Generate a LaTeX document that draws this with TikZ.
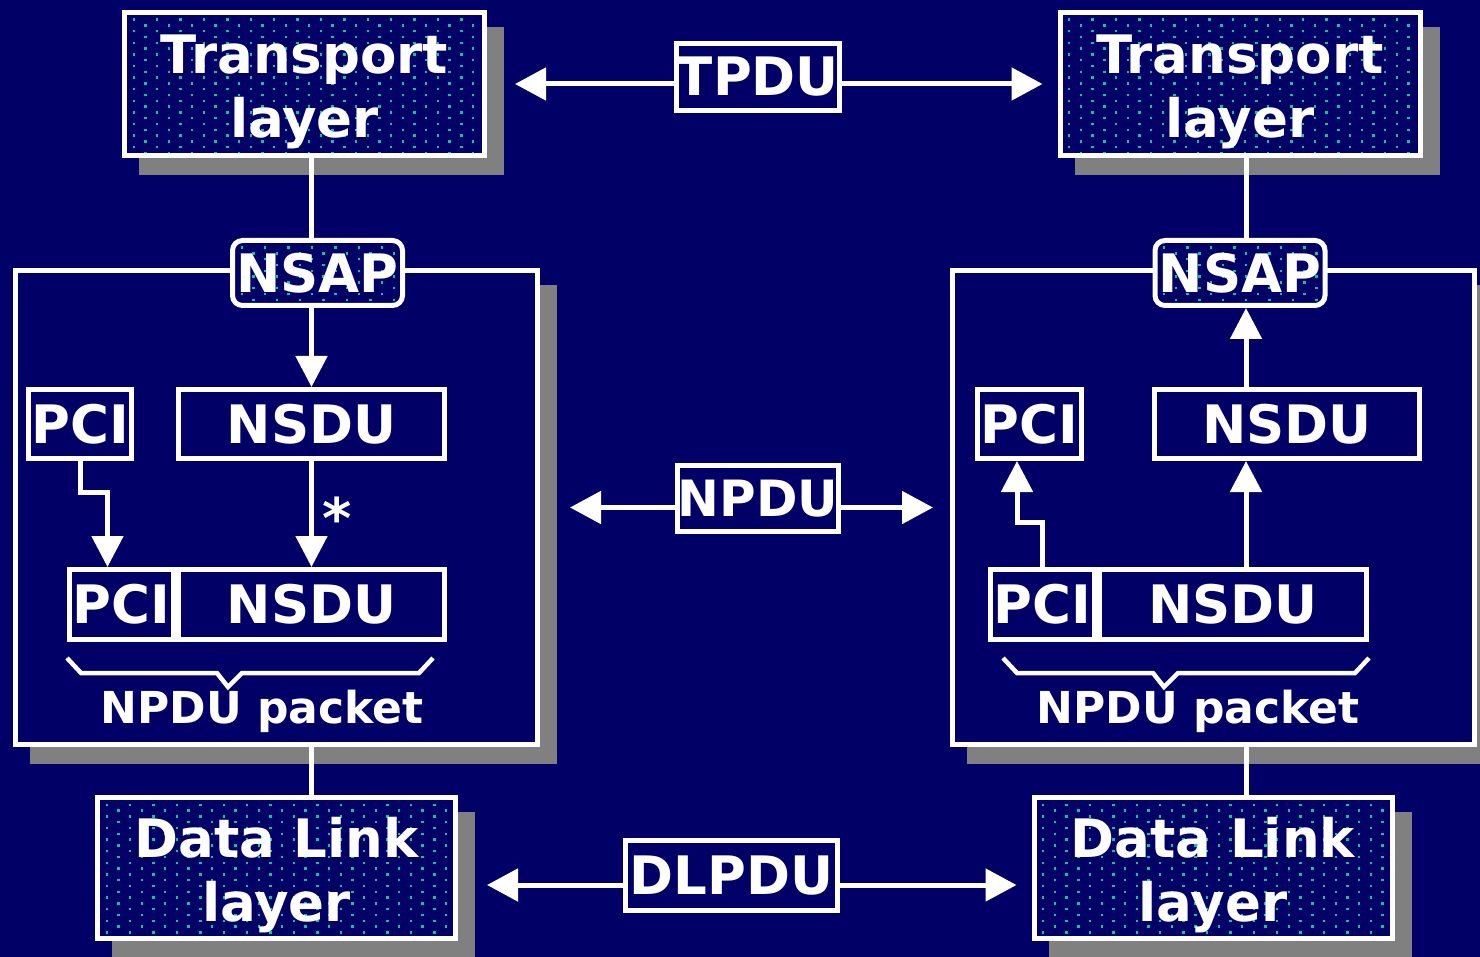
\documentclass[tikz,border=0pt]{standalone}
\usepackage{fontspec}
\setmainfont{DejaVu Sans}
\usetikzlibrary{arrows.meta,calc,shadows}
\definecolor{navy}{RGB}{0,0,102}
\definecolor{dotteal}{RGB}{0,204,153}
\definecolor{shadowgray}{RGB}{128,128,128}
% two line caption, pushed a little down inside its box
\newcommand\twoline[2]{\rule{0pt}{54pt}#1\\#2}
\tikzset{
  whitebox/.style={draw=white, line width=5pt, fill=navy, text=white, inner sep=0pt,
    font=\bfseries\fontsize{53pt}{64pt}\selectfont},
  shadowed/.style={general shadow={fill=shadowgray, draw=shadowgray, line width=5pt,
    shadow xshift=17pt, shadow yshift=-17pt}},
  dotted fill/.style={path picture={
    \foreach \i in {0,...,16} \foreach \j in {0,...,25}
      \fill[dotteal, sharp corners] ($(path picture bounding box.north west)+({\i*23.4+mod(\j,2)*11.7+8},{\j*5.8+6})$) rectangle ++(2.4,2.4);}},
  layerbox/.style={whitebox, shadowed, dotted fill, align=center,
    minimum width=360pt, minimum height=143pt},
  netbox/.style={whitebox, shadowed, minimum width=522pt, minimum height=474pt},
  sapbox/.style={whitebox, dotted fill, rounded corners=10pt,
    minimum width=170pt, minimum height=65pt},
  unitbox/.style={whitebox, minimum height=69pt},
  wire/.style={draw=white, line width=5pt},
  flow/.style={wire, -{Triangle[length=31pt,width=31pt]}},
  biflow/.style={wire, {Triangle[length=31pt,width=32pt]}-{Triangle[length=31pt,width=32pt]}},
  brace/.style={draw=white, line width=4.5pt},
  packetlabel/.style={text=white, font=\bfseries\fontsize{44pt}{50pt}\selectfont}
}
\begin{document}
\begin{tikzpicture}[x=1pt,y=-1pt]
\fill[navy] (0,0) rectangle (1480,957);
\useasboundingbox (0,0) rectangle (1480,957);

% the two network entities
\node[netbox] (netL) at (276.5,507.5) {};
\node[netbox] (netR) at (1213.5,507.5) {};

% layers above and below
\node[layerbox] (transL) at (304.5,84) {\twoline{Transport}{layer}};
\node[layerbox] (transR) at (1240,84) {\twoline{Transport}{layer}};
\node[layerbox, minimum width=358pt, minimum height=141pt] (dlL) at (276.5,868) {\twoline{Data Link}{layer}};
\node[layerbox, minimum width=358pt, minimum height=141pt] (dlR) at (1213,868) {\twoline{Data Link}{layer}};

% sending side
\node[unitbox, minimum width=103pt] (pciL) at (80,424) {PCI};
\node[unitbox, minimum width=266pt] (nsduL) at (311.5,424) {NSDU};
\node[unitbox, minimum width=104pt, minimum height=70pt] (pcibL) at (121.5,604.5) {PCI};
\node[unitbox, minimum width=266pt, minimum height=70pt] (nsdubL) at (311.5,604.5) {NSDU};

% receiving side
\node[unitbox, minimum width=104pt] (pciR) at (1029.5,424) {PCI};
\node[unitbox, minimum width=265pt] (nsduR) at (1287,424) {NSDU};
\node[unitbox, minimum width=104pt, minimum height=70pt] (pcibR) at (1042.5,604.5) {PCI};
\node[unitbox, minimum width=267pt, minimum height=70pt] (nsdubR) at (1233,604.5) {NSDU};

% vertical links
\draw[wire] (transL.south -| nsduL) -- (nsduL |- netL.north);
\draw[wire] (netL.south -| nsduL) -- (dlL.north -| nsduL);
\draw[wire] (transR.south) ++(6,0) coordinate (upR) -- (upR |- netR.north);
\draw[wire] (upR |- netR.south) -- (upR |- dlR.north);

\node[sapbox] (nsapL) at (317.5,273) {NSAP};
\node[sapbox] (nsapR) at (1240,273) {NSAP};

\draw[flow] (nsapL.south -| nsduL) -- (nsduL.north);
\draw[flow] (pciL.south) -- ++(0,31) -| ($(pcibL.north)+(-14,0)$);
\draw[flow] (nsduL.south) -- (nsdubL.north);
\node[text=white, font=\bfseries\fontsize{56pt}{56pt}\selectfont] (starL) at (337,518) {*};

\draw[flow] (upR |- nsduR.north) -- (upR |- nsapR.south);
\draw[flow] (upR |- nsdubR.north) -- (upR |- nsduR.south);
\draw[flow] (pcibR.north) -- ++(0,-45) -| ($(pciR.south)+(-12.5,0)$);

% braces and packet labels
\draw[brace] (67,658) -- (81,673) -- (217,673) -- (228,687) -- (242,673) -- (419,673) -- (433,658);
\draw[brace] (1003,658) -- (1017,673) -- (1153,673) -- (1164,687) -- (1178,673) -- (1355,673) -- (1369,658);
\node[packetlabel] (pktL) at (262,711) {NPDU packet};
\node[packetlabel] (pktR) at (1198,711) {NPDU packet};

% peer protocol exchanges
\draw[biflow, shorten <=28pt, shorten >=15pt] (transL.east) -- (transR.west);
\draw[biflow, shorten <=30pt, shorten >=17pt] (netL.east) -- (netR.west);
\draw[biflow, shorten <=29pt, shorten >=15pt] ($(dlL.east)+(0,17)$) -- ($(dlR.west)+(0,17)$);
\node[whitebox, minimum width=155pt, minimum height=67pt] (tpdu) at (758,77) {TPDU};
\node[whitebox, minimum width=155pt, minimum height=66pt, font=\bfseries\fontsize{50pt}{50pt}\selectfont] (npdu) at (758,498.5) {NPDU};
\node[whitebox, minimum width=212pt, minimum height=70pt] (dlpdu) at (731.5,875.5) {DLPDU};
\end{tikzpicture}
\end{document}
